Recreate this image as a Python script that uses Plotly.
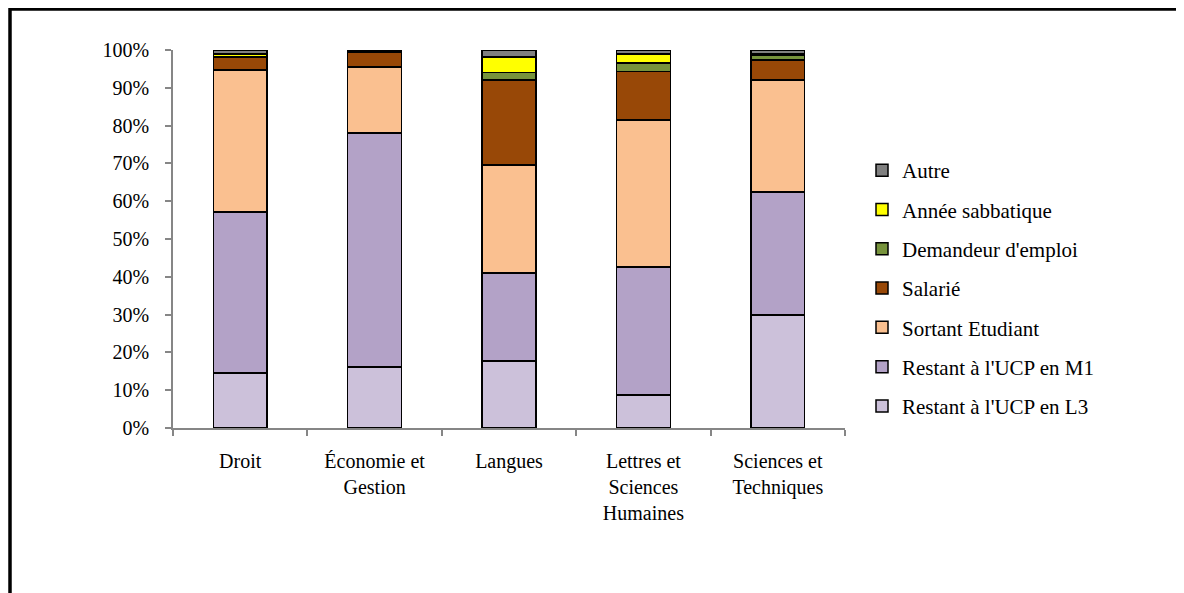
import plotly.graph_objects as go

categories = ["Droit", "Économie et<br>Gestion", "Langues", "Lettres et<br>Sciences<br>Humaines", "Sciences et<br>Techniques"]

series_names = ["Restant à l'UCP en L3", "Restant à l'UCP en M1", "Sortant Etudiant",
                "Salarié", "Demandeur d'emploi", "Année sabbatique", "Autre"]

restant_l3 = [14.5, 16.1, 17.7, 8.7, 29.9]
restant_m1 = [42.6, 61.9, 23.3, 33.9, 32.5]
sortant = [37.6, 17.5, 28.6, 38.9, 29.7]
salarie = [3.3, 3.8, 22.4, 12.8, 5.3]
demandeur = [0.2, 0.4, 2.0, 2.3, 1.2]
annee_sabb = [0.7, 0.0, 4.1, 2.3, 0.4]
autre = [1.1, 0.3, 1.9, 1.1, 1.0]

colors = ["#CCC1DA", "#B3A2C7", "#FAC090", "#984807", "#77933C", "#FFFF00", "#808080"]

values = [restant_l3, restant_m1, sortant, salarie, demandeur, annee_sabb, autre]

fig = go.Figure()
for i, (name, vals, col) in enumerate(zip(series_names, values, colors)):
    fig.add_trace(go.Bar(
        x=categories, y=[v / 100 for v in vals], name=name,
        marker=dict(color=col, line=dict(color="black", width=1.5)),
        width=0.4, legendgroup=name, legendrank=1000 - i,
    ))

# page has an 8px body margin; work in page pixels and convert
OFF = 8
W, H = 1184 - OFF, 593 - OFF
L, R, T, B = 173 - OFF, 1184 - 845, 50 - OFF, 593 - 428
pw, ph = W - L - R, H - T - B

def px_x(p):
    return (p - OFF - L) / pw

def px_y(p):
    return (H - B - (p - OFF)) / ph

fig.update_layout(
    barmode="stack",
    width=W, height=H,
    margin=dict(l=L, r=R, t=T, b=B, pad=0),
    paper_bgcolor="white", plot_bgcolor="white",
    font=dict(family="Liberation Serif, Times New Roman, serif", size=20, color="black"),
    showlegend=True,
    legend=dict(
        traceorder="grouped", tracegroupgap=9,
        x=px_x(862), xanchor="left", y=px_y(150), yanchor="top",
        font=dict(size=21), itemwidth=30, bgcolor="rgba(0,0,0,0)",
    ),
    xaxis=dict(
        showline=True, linecolor="#868686", linewidth=1.5,
        ticks="outside", tickson="boundaries", ticklen=6, tickcolor="#868686", tickwidth=1.5,
        showgrid=False, ticklabelstandoff=14,
    ),
    yaxis=dict(
        range=[0, 1], dtick=0.1, tickformat=".0%",
        showline=True, linecolor="#868686", linewidth=1.5,
        ticks="outside", ticklen=6, tickcolor="#868686", tickwidth=1.5,
        showgrid=False, zeroline=False, ticklabelstandoff=12,
    ),
    shapes=[
        dict(type="line", xref="paper", yref="paper", x0=px_x(10), x1=px_x(1250),
             y0=px_y(9), y1=px_y(9), line=dict(color="black", width=3.5)),
        dict(type="line", xref="paper", yref="paper", x0=px_x(10), x1=px_x(10),
             y0=px_y(7.5), y1=px_y(650), line=dict(color="black", width=3.5)),
    ],
)

fig.write_html("out.html")
